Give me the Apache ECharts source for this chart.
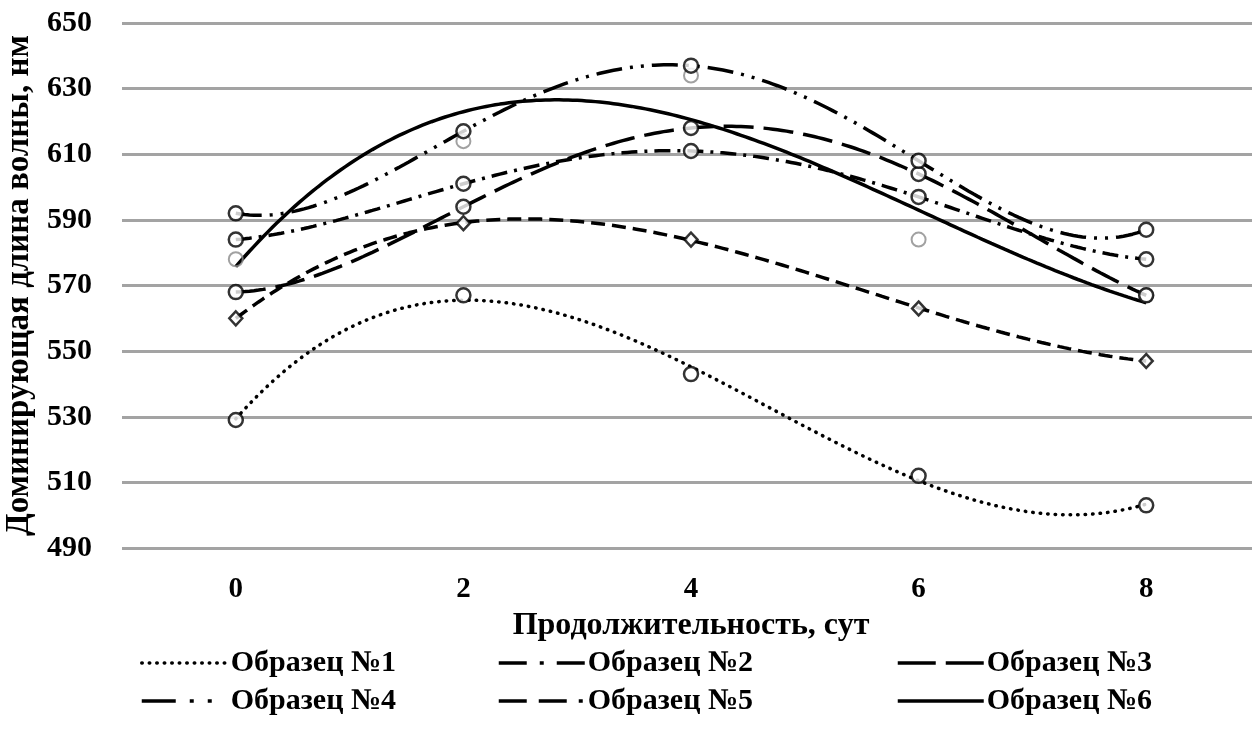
<!DOCTYPE html>
<html>
<head>
<meta charset="utf-8">
<script src="https://cdn.jsdelivr.net/npm/echarts@6/dist/echarts.min.js"></script>
<style>
html,body{margin:0;padding:0;background:#fff;}
#chart{width:1252px;height:731px;}
</style>
</head>
<body>
<div id="chart"></div>
<script>
// ---- data ----
var days = [0, 2, 4, 6, 8];
var xTickLabels = [0, 2, 4, 6, 8];
var seriesNames = ['Образец №1', 'Образец №2', 'Образец №3', 'Образец №4', 'Образец №5', 'Образец №6'];
var sample1 = [529, 567, 543, 512, 503];
var sample2 = [584, 601, 611, 597, 578];
var sample3 = [568, 594, 618, 604, 567];
var sample4 = [592, 617, 637, 608, 587];
var sample5 = [560, 589, 584, 563, 547];
var sample6 = [578, 614, 634, 584, 567];
// polynomial trendline order used for each sample
var trendOrder = [3, 4, 4, 4, 3, 3];

var allSamples = [sample1, sample2, sample3, sample4, sample5, sample6];

// least-squares polynomial trendline (as in the original spreadsheet chart)
function polyfit(xs, ys, deg) {
  var n = deg + 1, A = [], i, j, k;
  for (i = 0; i < n; i++) {
    A.push([]);
    for (j = 0; j < n; j++) {
      var s = 0;
      for (k = 0; k < xs.length; k++) s += Math.pow(xs[k], i + j);
      A[i].push(s);
    }
    var b = 0;
    for (k = 0; k < xs.length; k++) b += ys[k] * Math.pow(xs[k], i);
    A[i].push(b);
  }
  for (i = 0; i < n; i++) {
    var p = i;
    for (j = i + 1; j < n; j++) if (Math.abs(A[j][i]) > Math.abs(A[p][i])) p = j;
    var t = A[i]; A[i] = A[p]; A[p] = t;
    for (j = 0; j < n; j++) {
      if (j === i) continue;
      var f = A[j][i] / A[i][i];
      for (k = i; k <= n; k++) A[j][k] -= f * A[i][k];
    }
  }
  var c = [];
  for (i = 0; i < n; i++) c.push(A[i][n] / A[i][i]);
  return c;
}
function trendPoints(xs, ys, deg) {
  var c = polyfit(xs, ys, deg), pts = [];
  var x0 = xs[0], x1 = xs[xs.length - 1], steps = 200;
  for (var s = 0; s <= steps; s++) {
    var x = x0 + (x1 - x0) * s / steps, y = 0;
    for (var i = 0; i < c.length; i++) y += c[i] * Math.pow(x, i);
    pts.push([x, y]);
  }
  return pts;
}
function pairs(xs, ys) { return xs.map(function (x, i) { return [x, ys[i]]; }); }

var dashTypes = [[0.5, 7], [16, 7, 3, 7], [30, 10], [26, 8, 3, 8, 3, 8], [14, 7], 'solid'];
var legendDash = [[0.5, 7], [28, 13, 4, 13, 40], [38, 10], [34, 14, 4, 14, 4, 30], [28, 12, 28, 12, 4, 20], 'solid'];
var FONT = '"Liberation Serif", "Times New Roman", serif';

var series = [];
allSamples.forEach(function (ys, i) {
  series.push({
    name: seriesNames[i],
    type: 'line',
    data: trendPoints(days, ys, trendOrder[i]),
    symbol: 'none',
    smooth: false,
    lineStyle: { color: '#000', width: 3.5, type: dashTypes[i], cap: i === 0 ? 'round' : 'butt' },
    itemStyle: { color: '#000' },
    z: 3,
    silent: true,
    animation: false
  });
});
allSamples.forEach(function (ys, i) {
  var gray = i === 5;
  series.push({
    name: 'pts' + (i + 1),
    type: 'scatter',
    data: pairs(days, ys),
    symbol: i === 4 ? 'diamond' : 'circle',
    symbolSize: i === 4 ? [13, 14] : 14,
    itemStyle: gray
      ? { color: 'rgba(255,255,255,0)', borderColor: '#8a8a8a', borderWidth: 2 }
      : { color: '#fff', borderColor: '#000', borderWidth: 2.5 },
    z: gray ? 4 : 5,
    silent: true,
    animation: false
  });
});

var legendPos = [
  { left: 140, top: 648 }, { left: 497, top: 648 }, { left: 896, top: 648 },
  { left: 140, top: 686 }, { left: 497, top: 686 }, { left: 896, top: 686 }
];
var legends = seriesNames.map(function (nm, i) {
  return {
    data: [nm],
    left: legendPos[i].left,
    top: legendPos[i].top,
    padding: 0,
    itemWidth: 86,
    itemHeight: 20,
    itemGap: 4,
    selectedMode: false,
    itemStyle: { opacity: 0 },
    lineStyle: { width: 3.5, type: legendDash[i], cap: i === 0 ? 'round' : 'butt' },
    textStyle: { fontFamily: FONT, fontWeight: 'bold', fontSize: 30, color: '#000', padding: [0, 0, 0, -2] }
  };
});

var chart = echarts.init(document.getElementById('chart'), null, { renderer: 'canvas' });
chart.setOption({
  backgroundColor: '#fff',
  animation: false,
  legend: legends,
  grid: { left: 122, top: 23, right: -8, bottom: 183, containLabel: false, outerBoundsMode: 'none' },
  xAxis: {
    type: 'value',
    min: -1,
    max: 9,
    name: 'Продолжительность, сут',
    nameLocation: 'middle',
    nameGap: 62,
    nameTextStyle: { fontFamily: FONT, fontWeight: 'bold', fontSize: 32, color: '#000' },
    axisLine: { show: false },
    axisTick: { show: false },
    splitLine: { show: false },
    axisLabel: {
      customValues: xTickLabels,
      margin: 27,
      fontFamily: FONT, fontWeight: 'bold', fontSize: 29, color: '#000'
    }
  },
  yAxis: {
    type: 'value',
    min: 490,
    max: 650,
    interval: 20,
    name: 'Доминирующая длина волны, нм',
    nameLocation: 'middle',
    nameRotate: 90,
    nameGap: 84,
    nameTextStyle: { fontFamily: FONT, fontWeight: 'bold', fontSize: 33, color: '#000' },
    axisLine: { show: false },
    axisTick: { show: false },
    splitLine: { show: true, lineStyle: { color: '#a3a3a3', width: 3 } },
    axisLabel: { margin: 30, fontFamily: FONT, fontWeight: 'bold', fontSize: 30, color: '#000' }
  },
  series: series
});
</script>
</body>
</html>
